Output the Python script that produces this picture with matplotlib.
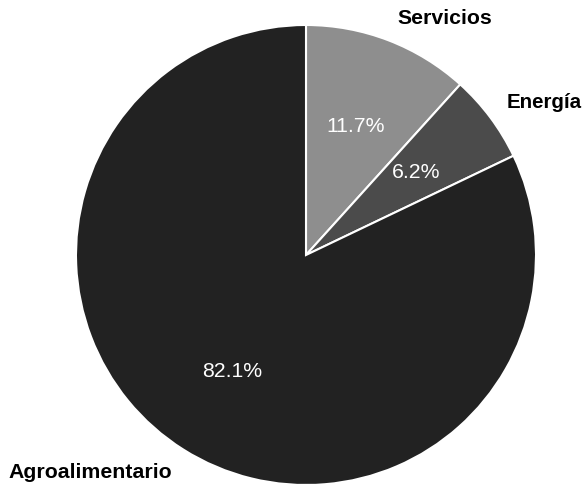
import matplotlib
matplotlib.use("Agg")
import matplotlib.pyplot as plt

# share of companies by sector
sectors = ["Servicios", "Energía", "Agroalimentario"]
shares = [11.7, 6.2, 82.1]
colors = ["#8e8e8e", "#4b4b4b", "#222222"]

# label anchor points (pixels, y up) placed around the pie
label_pos = [(445, 466), (507, 381), (90, 12)]
label_ha = ["center", "left", "center"]

plt.rcParams["font.family"] = ["Liberation Sans", "DejaVu Sans"]

fig = plt.figure(figsize=(5.88, 4.84), dpi=100)
ax = fig.add_axes([0, 0, 1, 1])

wedges, texts, autotexts = ax.pie(
    shares, labels=sectors, colors=colors, startangle=90, counterclock=False,
    center=(306, 229), radius=230, autopct="%1.1f%%", pctdistance=0.6,
    wedgeprops=dict(edgecolor="white", linewidth=1.5),
    textprops=dict(fontsize=15.3), frame=True)
ax.set_xlim(0, 588)
ax.set_ylim(0, 484)
ax.set_aspect("equal")
ax.axis("off")

for t, pos, ha in zip(texts, label_pos, label_ha):
    t.set_position(pos)
    t.set_ha(ha)
    t.set_va("center")
    t.set_fontweight("bold")
    t.set_color("black")
    t.set_clip_on(False)
# the right-hand label runs close to the edge, tighten it slightly
texts[1].set_fontsize(14.8)

for t in autotexts:
    t.set_color("white")

fig.savefig("out.png", dpi=100)
